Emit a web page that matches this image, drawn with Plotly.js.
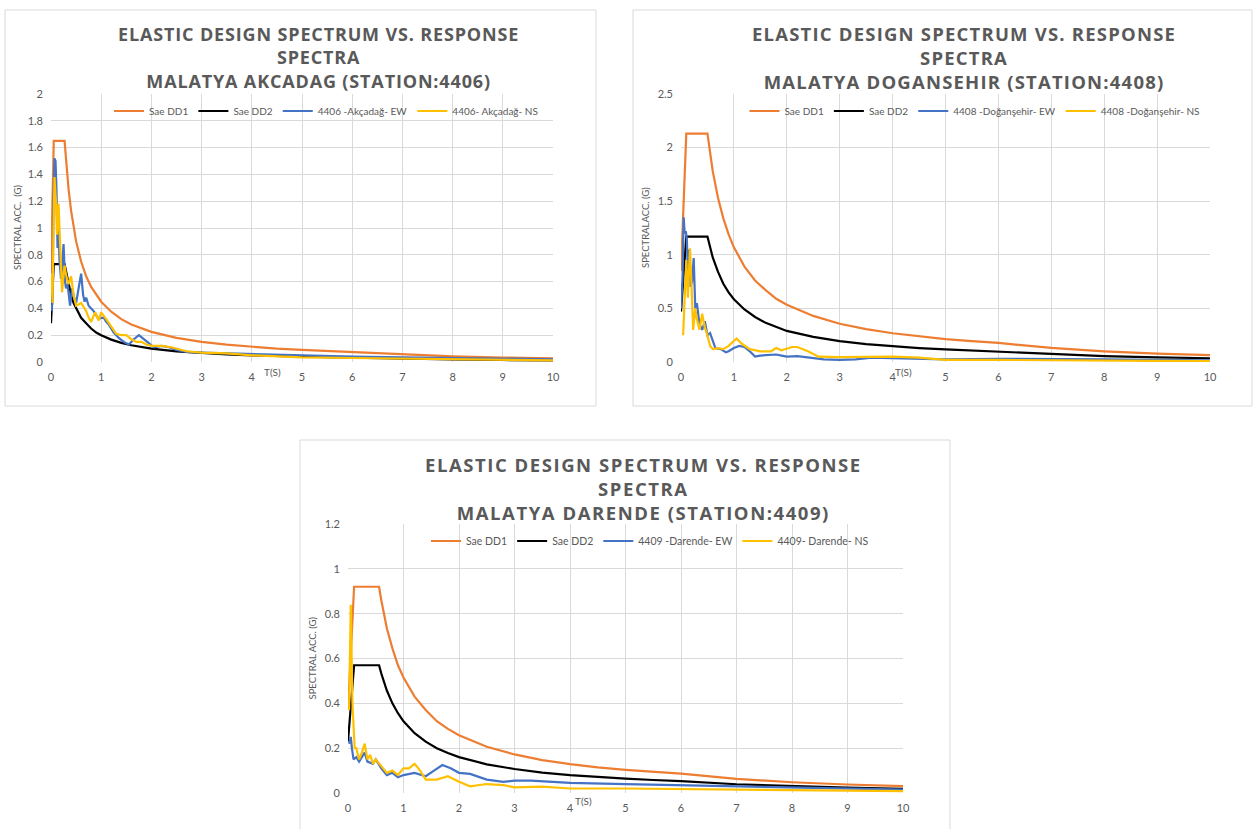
<!DOCTYPE html>
<html>
<head>
<meta charset="utf-8">
<script src="https://cdn.plot.ly/plotly-3.0.1.min.js"></script>
<style>html,body{margin:0;padding:0;background:#fff}#chart{width:1253px;height:829px}</style>
</head>
<body>
<div id="chart"></div>
<script>
// ---------- DATA ----------
const titleLine1 = "ELASTIC DESIGN SPECTRUM VS. RESPONSE";
const titleLine2 = "SPECTRA";
const stationTitles = ["MALATYA AKCADAG (STATION:4406)", "MALATYA DOGANSEHIR (STATION:4408)", "MALATYA DARENDE (STATION:4409)"];
const designNames = ["Sae DD1", "Sae DD2"];
const recordNames = [
  ["4406 -Akçadağ- EW", "4406- Akçadağ- NS"],
  ["4408 -Doğanşehir- EW", "4408 -Doğanşehir- NS"],
  ["4409 -Darende- EW", "4409- Darende- NS"]
];
const xTickVals = [0,1,2,3,4,5,6,7,8,9,10];
const yMax = [2, 2.5, 1.2];
const yStep = [0.2, 0.5, 0.2];
const xAxisLabel = "T(S)";
const yAxisLabels = ["SPECTRAL ACC.  (G)", "SPECTRALACC. (G)", "SPECTRAL ACC. (G)"];

// Station 4406 Akcadag
const dd1_4406 = [[0,0.66],[0.055,1.65],[0.27,1.65],[0.3,1.5],[0.35,1.29],[0.4,1.13],[0.45,1.0],[0.5,0.9],[0.6,0.75],[0.7,0.64],[0.8,0.56],[0.9,0.5],[1.0,0.45],[1.2,0.375],[1.4,0.32],[1.6,0.28],[1.8,0.25],[2.0,0.225],[2.5,0.18],[3,0.15],[3.5,0.129],[4,0.113],[4.5,0.1],[5,0.09],[5.5,0.082],[6,0.075],[7,0.055],[8,0.042],[9,0.033],[10,0.027]];
const dd2_4406 = [[0,0.29],[0.055,0.73],[0.27,0.73],[0.3,0.67],[0.35,0.57],[0.4,0.5],[0.45,0.44],[0.5,0.4],[0.6,0.33],[0.7,0.29],[0.8,0.25],[0.9,0.22],[1.0,0.2],[1.2,0.167],[1.4,0.143],[1.6,0.125],[1.8,0.111],[2.0,0.1],[2.5,0.08],[3,0.067],[3.5,0.057],[4,0.05],[4.5,0.044],[5,0.04],[5.5,0.036],[6,0.033],[7,0.024],[8,0.019],[9,0.015],[10,0.012]];
const ew_4406 = [[0.01,0.38],[0.03,0.45],[0.05,1.2],[0.07,1.52],[0.09,1.5],[0.11,1.28],[0.13,0.85],[0.15,1.0],[0.17,0.75],[0.2,0.62],[0.22,0.7],[0.25,0.88],[0.28,0.6],[0.3,0.55],[0.33,0.58],[0.36,0.45],[0.38,0.42],[0.42,0.55],[0.46,0.48],[0.5,0.44],[0.55,0.55],[0.6,0.66],[0.64,0.5],[0.67,0.45],[0.7,0.48],[0.75,0.42],[0.8,0.4],[0.85,0.38],[0.9,0.35],[0.95,0.32],[1.0,0.33],[1.05,0.33],[1.1,0.3],[1.15,0.28],[1.25,0.22],[1.35,0.18],[1.45,0.15],[1.55,0.13],[1.65,0.17],[1.75,0.2],[1.85,0.17],[1.95,0.14],[2.05,0.11],[2.2,0.12],[2.35,0.11],[2.5,0.09],[2.7,0.075],[3.0,0.07],[3.5,0.065],[4.0,0.055],[4.5,0.05],[5.0,0.05],[5.5,0.045],[6.0,0.04],[7.0,0.035],[8.0,0.03],[9.0,0.025],[10.0,0.02]];
const ns_4406 = [[0.01,0.65],[0.03,0.44],[0.05,1.0],[0.07,1.38],[0.09,1.25],[0.1,1.2],[0.12,0.95],[0.15,1.18],[0.18,0.9],[0.2,0.6],[0.22,0.52],[0.25,0.65],[0.27,0.72],[0.3,0.65],[0.35,0.58],[0.4,0.64],[0.45,0.5],[0.5,0.42],[0.55,0.43],[0.6,0.44],[0.7,0.38],[0.75,0.33],[0.8,0.3],[0.88,0.37],[0.95,0.31],[1.0,0.37],[1.1,0.32],[1.2,0.26],[1.3,0.21],[1.4,0.2],[1.5,0.2],[1.6,0.17],[1.7,0.15],[1.8,0.15],[1.9,0.13],[2.0,0.12],[2.2,0.12],[2.4,0.11],[2.7,0.08],[3.0,0.07],[3.5,0.065],[4.0,0.05],[4.5,0.04],[5.0,0.035],[6.0,0.03],[7.0,0.025],[8.0,0.02],[9.0,0.015],[10.0,0.012]];

// Station 4408 Dogansehir
const dd1_4408 = [[0,0.85],[0.1,2.13],[0.5,2.13],[0.55,1.95],[0.6,1.78],[0.7,1.53],[0.8,1.34],[0.9,1.19],[1.0,1.07],[1.2,0.89],[1.4,0.76],[1.6,0.67],[1.8,0.59],[2.0,0.535],[2.5,0.43],[3,0.357],[3.5,0.306],[4,0.268],[4.5,0.238],[5,0.214],[5.5,0.195],[6,0.178],[7,0.131],[8,0.1],[9,0.079],[10,0.064]];
const dd2_4408 = [[0,0.47],[0.1,1.17],[0.5,1.17],[0.55,1.06],[0.6,0.975],[0.7,0.84],[0.8,0.73],[0.9,0.65],[1.0,0.585],[1.2,0.49],[1.4,0.42],[1.6,0.365],[1.8,0.325],[2.0,0.29],[2.5,0.234],[3,0.195],[3.5,0.167],[4,0.146],[4.5,0.13],[5,0.117],[5.5,0.106],[6,0.0975],[7,0.072],[8,0.055],[9,0.043],[10,0.035]];
const ew_4408 = [[0.0,0.5],[0.03,0.8],[0.05,1.35],[0.07,1.2],[0.09,1.22],[0.11,1.15],[0.13,0.85],[0.15,1.05],[0.18,0.7],[0.21,0.75],[0.24,0.97],[0.27,0.5],[0.3,0.55],[0.35,0.35],[0.4,0.3],[0.45,0.38],[0.5,0.25],[0.55,0.27],[0.6,0.2],[0.65,0.13],[0.75,0.12],[0.85,0.09],[0.9,0.1],[1.0,0.13],[1.1,0.15],[1.2,0.14],[1.3,0.1],[1.4,0.05],[1.5,0.06],[1.6,0.065],[1.8,0.07],[1.9,0.06],[2.0,0.05],[2.2,0.055],[2.4,0.045],[2.7,0.025],[3.0,0.02],[3.3,0.025],[3.6,0.04],[4.0,0.035],[4.5,0.03],[5.0,0.025],[6.0,0.03],[7.0,0.03],[8.0,0.025],[9.0,0.02],[10.0,0.015]];
const ns_4408 = [[0.04,0.25],[0.07,0.7],[0.1,0.95],[0.13,0.6],[0.15,0.9],[0.17,1.06],[0.2,0.7],[0.23,0.3],[0.27,0.5],[0.3,0.4],[0.35,0.3],[0.4,0.45],[0.45,0.32],[0.5,0.25],[0.55,0.15],[0.6,0.12],[0.7,0.13],[0.8,0.12],[0.9,0.15],[1.0,0.2],[1.05,0.22],[1.15,0.17],[1.3,0.12],[1.5,0.1],[1.7,0.1],[1.8,0.13],[1.9,0.11],[2.1,0.14],[2.2,0.14],[2.4,0.1],[2.6,0.05],[3.0,0.045],[3.5,0.05],[4.0,0.05],[4.5,0.04],[5.0,0.02],[6.0,0.02],[7.0,0.015],[8.0,0.012],[9.0,0.01],[10.0,0.008]];

// Station 4409 Darende
const dd1_4409 = [[0,0.37],[0.11,0.92],[0.56,0.92],[0.6,0.86],[0.7,0.735],[0.8,0.645],[0.9,0.57],[1.0,0.515],[1.2,0.43],[1.4,0.37],[1.6,0.32],[1.8,0.286],[2.0,0.258],[2.5,0.206],[3,0.172],[3.5,0.147],[4,0.129],[4.5,0.114],[5,0.103],[5.5,0.094],[6,0.086],[7,0.063],[8,0.048],[9,0.038],[10,0.031]];
const dd2_4409 = [[0,0.23],[0.11,0.57],[0.56,0.57],[0.6,0.533],[0.7,0.457],[0.8,0.4],[0.9,0.356],[1.0,0.32],[1.2,0.267],[1.4,0.229],[1.6,0.2],[1.8,0.178],[2.0,0.16],[2.5,0.128],[3,0.107],[3.5,0.091],[4,0.08],[4.5,0.071],[5,0.064],[5.5,0.058],[6,0.053],[7,0.039],[8,0.03],[9,0.024],[10,0.019]];
const ew_4409 = [[0.02,0.22],[0.05,0.25],[0.07,0.2],[0.1,0.15],[0.15,0.16],[0.2,0.14],[0.25,0.16],[0.3,0.18],[0.35,0.14],[0.45,0.13],[0.5,0.15],[0.6,0.11],[0.7,0.08],[0.8,0.09],[0.9,0.07],[1.0,0.08],[1.2,0.09],[1.4,0.075],[1.55,0.1],[1.7,0.125],[1.85,0.11],[2.0,0.09],[2.2,0.085],[2.5,0.06],[2.8,0.05],[3.0,0.055],[3.3,0.055],[3.6,0.05],[4.0,0.045],[5.0,0.04],[6.0,0.035],[7.0,0.03],[8.0,0.025],[9.0,0.02],[10.0,0.015]];
const ns_4409 = [[0.02,0.37],[0.05,0.84],[0.08,0.4],[0.1,0.3],[0.12,0.2],[0.15,0.2],[0.2,0.15],[0.25,0.18],[0.3,0.22],[0.35,0.15],[0.4,0.17],[0.45,0.13],[0.5,0.15],[0.6,0.12],[0.7,0.09],[0.8,0.1],[0.9,0.08],[1.0,0.11],[1.1,0.11],[1.2,0.13],[1.3,0.1],[1.4,0.06],[1.6,0.06],[1.8,0.075],[2.0,0.05],[2.2,0.03],[2.5,0.04],[2.8,0.035],[3.0,0.025],[3.5,0.028],[4.0,0.02],[5.0,0.02],[6.0,0.018],[7.0,0.015],[8.0,0.012],[9.0,0.01],[10.0,0.008]];

// ---------- LAYOUT / STYLE ----------
const W = 1253, H = 829;
const px = x => x / W;
const py = y => 1 - y / H;
const colors = ["#ED7D31", "#000000", "#4472C4", "#FFC000"];
const textGray = "#595959";
const gridGray = "#d9d9d9";

const panels = [
  { box: [5, 10, 596, 406], plot: [51, 94, 553, 362], titleX: 318, titleY: 58, titleSize: 18, spacing: 0.85,
    legendX: 326, legendY: 111, legendSize: 10, tx: 272, ty: 372, yLabX: 17,
    series: [dd1_4406, dd2_4406, ew_4406, ns_4406] },
  { box: [633, 10, 1252, 406], plot: [681, 94, 1210, 362], titleX: 964, titleY: 58, titleSize: 18.5, spacing: 1.2,
    legendX: 975, legendY: 111, legendSize: 10, tx: 903, ty: 372, yLabX: 645,
    series: [dd1_4408, dd2_4408, ew_4408, ns_4408] },
  { box: [300, 440, 950, 830], plot: [348, 524, 903, 793], titleX: 643, titleY: 488, titleSize: 18.5, spacing: 1.55,
    legendX: 650, legendY: 541, legendSize: 10.5, tx: 583, ty: 801, yLabX: 312,
    series: [dd1_4409, dd2_4409, ew_4409, ns_4409] }
];

const traces = [];
const layout = {
  width: W, height: H,
  margin: { l: 0, r: 0, t: 0, b: 0 },
  paper_bgcolor: "#ffffff", plot_bgcolor: "#ffffff",
  font: { family: "Lato, 'Open Sans', sans-serif", color: textGray },
  shapes: [], annotations: []
};

panels.forEach((p, i) => {
  const n = i + 1;
  const xa = n === 1 ? "x" : "x" + n;
  const ya = n === 1 ? "y" : "y" + n;
  const legendId = n === 1 ? "legend" : "legend" + n;
  const names = [designNames[0], designNames[1], recordNames[i][0], recordNames[i][1]];
  p.series.forEach((s, k) => {
    traces.push({
      type: "scatter", mode: "lines",
      x: s.map(d => d[0]), y: s.map(d => d[1]),
      name: names[k], xaxis: xa, yaxis: ya, legend: legendId,
      line: { color: colors[k], width: 2.2 },
      hoverinfo: "x+y+name"
    });
  });
  layout[(n === 1 ? "xaxis" : "xaxis" + n)] = {
    domain: [px(p.plot[0]), px(p.plot[2])], anchor: ya,
    range: [0, 10], tickvals: xTickVals, showgrid: true, gridcolor: gridGray, gridwidth: 1,
    zeroline: false, showline: false, ticks: "", ticklabelstandoff: 7,
    tickfont: { size: 11, color: textGray, family: "Lato" }
  };
  const yvals = [];
  for (let v = 0; v <= yMax[i] + 1e-9; v += yStep[i]) yvals.push(Math.round(v * 10) / 10);
  layout[(n === 1 ? "yaxis" : "yaxis" + n)] = {
    domain: [py(p.plot[3]), py(p.plot[1])], anchor: xa,
    range: [0, yMax[i]], tickvals: yvals, showgrid: true, gridcolor: gridGray, gridwidth: 1,
    zeroline: false, showline: false, ticks: "", ticklabelstandoff: 7,
    tickfont: { size: 11, color: textGray, family: "Lato" }
  };
  layout[legendId] = {
    orientation: "h", x: px(p.legendX), y: py(p.legendY), xanchor: "center", yanchor: "middle",
    xref: "paper", yref: "paper", bgcolor: "rgba(0,0,0,0)",
    font: { size: p.legendSize, color: textGray, family: "Lato" }, itemwidth: 30, tracegroupgap: 0
  };
  layout.shapes.push({ type: "rect", xref: "paper", yref: "paper",
    x0: px(p.box[0]), x1: px(p.box[2]), y0: py(p.box[3]), y1: py(p.box[1]),
    line: { color: gridGray, width: 1 }, fillcolor: "rgba(0,0,0,0)", layer: "below" });
  const tl = [titleLine1, titleLine2, stationTitles[i]];
  const titleText = tl.map(t => "<span style=\"letter-spacing:" + p.spacing + "px\"><b>" + t + "</b></span>").join("<br>");
  layout.annotations.push({ text: titleText, xref: "paper", yref: "paper",
    x: px(p.titleX), y: py(p.titleY), xanchor: "center", yanchor: "middle", align: "center", showarrow: false,
    font: { family: "Open Sans", size: p.titleSize, color: textGray } });
  layout.annotations.push({ text: xAxisLabel, xref: "paper", yref: "paper", x: px(p.tx), y: py(p.ty),
    xanchor: "center", yanchor: "middle", showarrow: false, font: { family: "Lato", size: 10, color: textGray } });
  layout.annotations.push({ text: yAxisLabels[i], xref: "paper", yref: "paper", x: px(p.yLabX),
    y: py((p.plot[1] + p.plot[3]) / 2), xanchor: "center", yanchor: "middle", textangle: -90, showarrow: false,
    font: { family: "Lato", size: 9.5, color: textGray } });
});

Plotly.newPlot("chart", traces, layout, { staticPlot: true, displayModeBar: false });
</script>
</body>
</html>
